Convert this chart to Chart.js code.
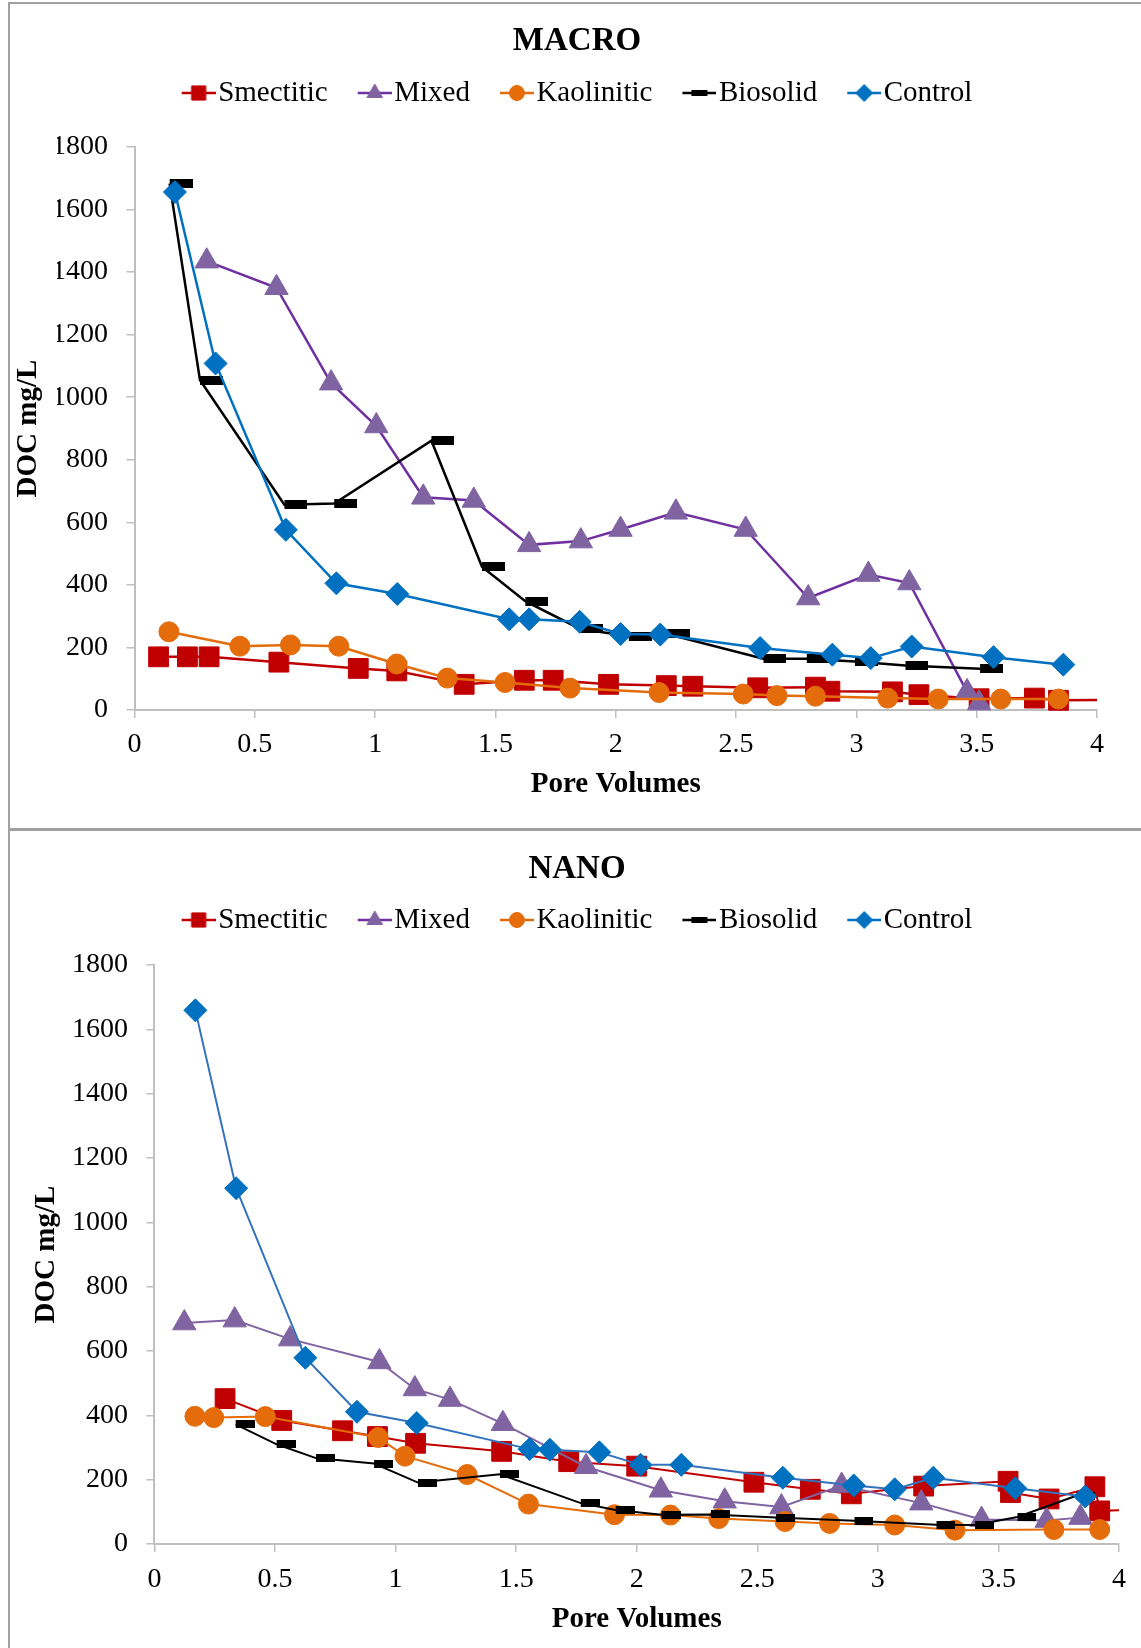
<!DOCTYPE html>
<html lang="en">
<head>
  <meta charset="UTF-8">
  <title>DOC vs Pore Volumes - MACRO / NANO</title>
  <script src="https://cdn.jsdelivr.net/npm/chart.js@4"></script>
  <style>
    body { margin: 0; background: #fff; }
    #page { position: relative; width: 1141px; height: 1648px; overflow: hidden; }
    .box { position: absolute; left: 8px; width: 1160px; border: 2px solid #a0a0a0; box-sizing: border-box; }
    #boxMacro { top: 2px; height: 828px; }
    #boxNano { top: 829px; height: 840px; }
    canvas { position: absolute; left: 0; }
    #macro { top: 2px; }
    #nano { top: 832px; }
  </style>
</head>
<body>
<div id="page">
  <div class="box" id="boxMacro"></div>
  <div class="box" id="boxNano"></div>
  <canvas id="macro" width="1141" height="828"></canvas>
  <canvas id="nano" width="1141" height="816"></canvas>
</div>

<script>
  // series names (legend order)
  const seriesNames = ['Smectitic', 'Mixed', 'Kaolinitic', 'Biosolid', 'Control'];

  // ---- MACRO data (pore volumes / DOC mg/L) ----
  const macroSmectiticX = [0.10, 0.22, 0.31, 0.60, 0.93, 1.09, 1.37, 1.62, 1.74, 1.97, 2.21, 2.32, 2.59, 2.83, 2.89, 3.15, 3.26, 3.51, 3.74, 3.84, 4.00];
  const macroSmectiticY = [170, 170, 170, 153, 133, 125, 82, 95, 95, 82, 78, 76, 71, 73, 60, 58, 49, 36, 38, 31, 32];
  const macroMixedX = [0.30, 0.59, 0.817, 1.005, 1.20, 1.41, 1.64, 1.855, 2.02, 2.25, 2.54, 2.80, 3.05, 3.22, 3.46, 3.51];
  const macroMixedY = [1435, 1350, 1045, 908, 680, 670, 528, 540, 577, 632, 577, 358, 433, 406, 58, 22];
  const macroKaoliniticX = [0.143, 0.438, 0.648, 0.849, 1.09, 1.30, 1.54, 1.81, 2.18, 2.53, 2.67, 2.83, 3.13, 3.34, 3.60, 3.84];
  const macroKaoliniticY = [250, 204, 208, 204, 147, 102, 88, 70, 56, 51, 46, 44, 38, 35, 35, 35];
  const macroBiosolidX = [0.146, 0.272, 0.623, 0.83, 1.234, 1.444, 1.624, 1.85, 2.054, 2.214, 2.614, 2.794, 2.994, 3.204, 3.514];
  const macroBiosolidY = [1683, 1055, 656, 660, 861, 458, 348, 260, 236, 243, 164, 164, 155, 142, 132];
  const macroControlX = [0.168, 0.337, 0.629, 0.839, 1.092, 1.557, 1.64, 1.85, 2.02, 2.185, 2.60, 2.90, 3.06, 3.23, 3.57, 3.86];
  const macroControlY = [1656, 1108, 576, 405, 371, 290, 290, 282, 243, 241, 198, 177, 166, 203, 169, 145];

  // ---- NANO data ----
  const nanoSmectiticX = [0.293, 0.528, 0.78, 0.925, 1.083, 1.44, 1.718, 2.0, 2.486, 2.72, 2.89, 3.19, 3.54, 3.55, 3.71, 3.90, 3.92, 4.00];
  const nanoSmectiticY = [452, 384, 352, 334, 313, 288, 256, 242, 192, 170, 156, 180, 195, 160, 140, 178, 103, 105];
  const nanoMixedX = [0.124, 0.333, 0.563, 0.933, 1.08, 1.226, 1.445, 1.79, 2.10, 2.365, 2.60, 2.85, 3.18, 3.43, 3.70, 3.84];
  const nanoMixedY = [687, 696, 637, 566, 482, 449, 374, 240, 167, 133, 115, 182, 127, 76, 73, 82];
  const nanoKaoliniticX = [0.168, 0.246, 0.46, 0.928, 1.039, 1.297, 1.551, 1.908, 2.14, 2.34, 2.615, 2.80, 3.07, 3.32, 3.73, 3.92];
  const nanoKaoliniticY = [397, 393, 396, 331, 273, 216, 124, 91, 90, 79, 70, 64, 59, 43, 45, 45];
  const nanoBiosolidX = [0.337, 0.507, 0.67, 0.911, 1.093, 1.433, 1.768, 1.913, 2.103, 2.308, 2.578, 2.903, 3.243, 3.403, 3.579, 3.823];
  const nanoBiosolidY = [372, 310, 267, 250, 191, 217, 127, 106, 91, 92, 82, 72, 60, 59, 84, 150];
  const nanoControlX = [0.17, 0.339, 0.626, 0.84, 1.088, 1.556, 1.64, 1.845, 2.016, 2.185, 2.606, 2.90, 3.07, 3.23, 3.57, 3.86];
  const nanoControlY = [1659, 1106, 579, 411, 376, 295, 293, 285, 246, 246, 206, 182, 170, 206, 173, 148];

  const yTicks = { min: 0, max: 1800, step: 200 };
  const xTicks = { min: 0, max: 4, step: 0.5 };

  Chart.defaults.font.family = "'Liberation Serif', 'Times New Roman', serif";
  Chart.defaults.color = '#000';

  function makeCanvas(w, h, draw) {
    const c = document.createElement('canvas');
    c.width = w; c.height = h;
    draw(c.getContext('2d'));
    return c;
  }

  // Excel style "dash" marker: bar starts at the point and runs right
  const dashMacro = makeCanvas(46, 9, g => { g.fillStyle = '#000'; g.fillRect(23, 0, 23, 9); });
  const dashNano = makeCanvas(38, 8, g => { g.fillStyle = '#000'; g.fillRect(19, 0, 19, 8); });

  const styles = {
    Smectitic:  { line: '#C00000', fill: '#C00000', shape: 'rect', r: 14, lr: 10 },
    Mixed:      { line: '#7030A0', nanoLine: '#8064A2', fill: '#8064A2', shape: 'triangle', r: 13.5, lr: 9 },
    Kaolinitic: { line: '#E46C0A', fill: '#E46C0A', shape: 'circle', r: 10, lr: 7.5 },
    Biosolid:   { line: '#000000', fill: '#000000', shape: 'dash', r: 11, lr: 8 },
    Control:    { line: '#0070C0', nanoLine: '#3473BC', fill: '#0070C0', shape: 'rectRot', r: 11.5, lr: 8.5 }
  };

  // legend swatch: short line with the marker in the middle
  function legendIcon(st) {
    return makeCanvas(46, 26, g => {
      g.strokeStyle = st.line;
      g.lineWidth = 2.5;
      g.beginPath(); g.moveTo(12, 13); g.lineTo(46, 13); g.stroke();
      g.fillStyle = st.fill;
      g.strokeStyle = st.fill;
      g.lineWidth = 1;
      if (st.shape === 'dash') {
        g.fillRect(21, 10, 16, 6);
      } else if (Chart.helpers && Chart.helpers.drawPoint) {
        Chart.helpers.drawPoint(g, { pointStyle: st.shape, radius: st.lr, borderWidth: 1, rotation: 0 }, 29, 13);
      } else {
        g.beginPath(); g.arc(29, 13, st.lr * 0.8, 0, Math.PI * 2); g.fill();
      }
    });
  }
  const icons = {};
  seriesNames.forEach(n => { icons[n] = legendIcon(styles[n]); });

  function toPoints(xs, ys) {
    return xs.map((x, i) => ({ x: x, y: ys[i] }));
  }

  function makeDataset(name, i, xs, ys, nano, bareLast) {
    const st = styles[name];
    const n = xs.length;
    const isDash = st.shape === 'dash';
    return {
      label: name,
      data: toPoints(xs, ys),
      borderColor: nano && st.nanoLine ? st.nanoLine : st.line,
      backgroundColor: st.fill,
      borderWidth: nano ? 2 : 2.5,
      pointStyle: isDash ? (nano ? dashNano : dashMacro) : st.shape,
      pointRadius: c => (bareLast && c.dataIndex === n - 1) ? 0 : st.r,
      pointBackgroundColor: st.fill,
      pointBorderColor: st.fill,
      pointBorderWidth: 1,
      tension: 0,
      clip: false,
      order: 5 - i
    };
  }

  function buildChart(id, titleText, sets, nano, lay) {
    const datasets = sets.map((s, i) => makeDataset(seriesNames[i], i, s[0], s[1], nano, s[2]));
    return new Chart(document.getElementById(id), {
      type: 'line',
      data: { datasets: datasets },
      options: {
        responsive: false,
        animation: false,
        events: [],
        layout: { padding: { left: lay.padLeft, right: lay.padRight, top: 0, bottom: 0 } },
        plugins: {
          tooltip: { enabled: false },
          title: {
            display: true,
            text: titleText,
            font: { size: 33, weight: 'bold', lineHeight: 1 },
            padding: { top: lay.titleTop, bottom: lay.titleBottom }
          },
          legend: {
            display: true,
            position: 'top',
            labels: {
              usePointStyle: true,
              pointStyleWidth: 22,
              padding: 30,
              font: { size: 29 },
              color: '#000',
              generateLabels: chart => chart.data.datasets.map((ds, i) => ({
                text: ds.label,
                pointStyle: icons[ds.label],
                fillStyle: ds.backgroundColor,
                strokeStyle: ds.borderColor,
                lineWidth: 0,
                hidden: false,
                datasetIndex: i,
                fontColor: '#000'
              }))
            }
          },
          // empty spacer between legend and plot
          subtitle: {
            display: true,
            text: '',
            weight: 500,
            font: { size: 10, lineHeight: 1 },
            padding: { top: lay.spacer - 10, bottom: 0 }
          }
        },
        scales: {
          x: {
            type: 'linear',
            min: xTicks.min,
            max: xTicks.max,
            afterFit: s => { s.height = lay.xHeight; },
            ticks: {
              stepSize: xTicks.step,
              padding: lay.xTickPad,
              font: { size: 28 },
              color: '#000',
              callback: v => String(v)
            },
            grid: { drawOnChartArea: false, drawTicks: true, tickLength: 8, color: '#BFBFBF', lineWidth: 1.5 },
            border: { color: '#BFBFBF', width: 2 },
            title: {
              display: true,
              text: 'Pore Volumes',
              font: { size: 29, weight: 'bold' },
              color: '#000',
              padding: { top: 0, bottom: lay.xTitlePad }
            }
          },
          y: {
            min: yTicks.min,
            max: yTicks.max,
            afterFit: s => { s.width = lay.yWidth; },
            ticks: {
              stepSize: yTicks.step,
              padding: 18.5,
              font: { size: 28 },
              color: '#000',
              callback: v => String(v)
            },
            grid: { drawOnChartArea: false, drawTicks: true, tickLength: 8, color: '#BFBFBF', lineWidth: 1.5 },
            border: { color: '#BFBFBF', width: 2 },
            title: {
              display: true,
              text: 'DOC mg/L',
              font: { size: 29, weight: 'bold' },
              color: '#000',
              padding: { top: lay.yTitlePad, bottom: 0 }
            }
          }
        }
      }
    });
  }

  buildChart('macro', 'MACRO', [
    [macroSmectiticX, macroSmectiticY, true],
    [macroMixedX, macroMixedY],
    [macroKaoliniticX, macroKaoliniticY],
    [macroBiosolidX, macroBiosolidY],
    [macroControlX, macroControlY]
  ], false, {
    padLeft: 57, padRight: 44, yWidth: 77.5, xHeight: 120,
    titleTop: 22.5, titleBottom: -9, spacer: 29.5,
    yTitlePad: -45.4, xTickPad: 10.2, xTitlePad: 27.6
  });

  buildChart('nano', 'NANO', [
    [nanoSmectiticX, nanoSmectiticY, true],
    [nanoMixedX, nanoMixedY],
    [nanoKaoliniticX, nanoKaoliniticY],
    [nanoBiosolidX, nanoBiosolidY],
    [nanoControlX, nanoControlY]
  ], true, {
    padLeft: 35, padRight: 22, yWidth: 119.4, xHeight: 104,
    titleTop: 20.5, titleBottom: -10, spacer: 20.5,
    yTitlePad: -5.4, xTickPad: 11.2, xTitlePad: 10.6
  });
</script>
</body>
</html>
